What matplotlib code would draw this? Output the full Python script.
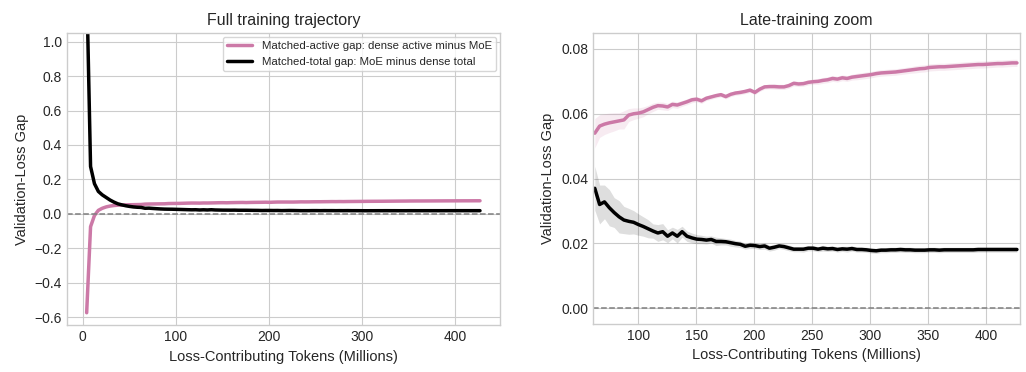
import numpy as np
import matplotlib
matplotlib.use("Agg")
import matplotlib.pyplot as plt
from matplotlib.ticker import MultipleLocator

plt.style.use("seaborn-v0_8-whitegrid")
plt.rcParams["font.family"] = ["Liberation Sans", "DejaVu Sans"]

# evaluation points, millions of loss-contributing tokens (~4.18M per eval)
step_m = 4.18

# matched-active gap: dense active minus MoE
active_gap = [
    -0.575, -0.075, -0.010, 0.020, 0.032, 0.040, 0.045, 0.048, 0.050, 0.051,
    0.052, 0.0525, 0.053, 0.0535,
    0.0540, 0.0562, 0.0568, 0.0572, 0.0575, 0.0578, 0.0581, 0.0596, 0.0600, 0.0602,
    0.0606, 0.0613, 0.0620, 0.0625, 0.0624, 0.0621, 0.0629, 0.0627, 0.0632, 0.0637,
    0.0643, 0.0645,
    0.0640, 0.0648, 0.0652, 0.0656, 0.0659, 0.0653, 0.0660, 0.0664, 0.0666, 0.0669,
    0.0673, 0.0666, 0.0676, 0.0683, 0.0684, 0.0684, 0.0683, 0.0683, 0.0687, 0.0694,
    0.0692, 0.0693, 0.0697, 0.0699,
    0.0700, 0.0703, 0.0705, 0.0709, 0.0707, 0.0711, 0.0709, 0.0713, 0.0715, 0.0717,
    0.0719, 0.0721, 0.0724, 0.0726, 0.0727, 0.0728, 0.0729, 0.0731, 0.0733, 0.0735,
    0.0737, 0.0739, 0.0740, 0.0743, 0.0744, 0.0745, 0.0745, 0.0746, 0.0747, 0.0748,
    0.0749, 0.0750, 0.0751, 0.0752, 0.0752, 0.0753, 0.0754, 0.0755, 0.0755, 0.0756,
    0.0757, 0.0757,
]
active_err = [
    0.010, 0.008, 0.006, 0.005, 0.005, 0.0045, 0.0045, 0.0045, 0.0045, 0.0045,
    0.0045, 0.0045, 0.0045, 0.0045,
    0.0045, 0.0035, 0.0032, 0.0030, 0.0028, 0.0025, 0.0028, 0.0020, 0.0018, 0.0016,
    0.0015, 0.0013, 0.0013, 0.0011, 0.0012, 0.0011, 0.0010, 0.0010, 0.0009, 0.0009,
    0.0009, 0.0008,
    0.0008, 0.0007, 0.0007, 0.0007, 0.0007, 0.0007, 0.0007, 0.0007, 0.0007, 0.0007,
    0.0007, 0.0007, 0.0007, 0.0007, 0.0007, 0.0008, 0.0008, 0.0008, 0.0008, 0.0008,
    0.0008, 0.0008, 0.0008, 0.0008,
    0.0009, 0.0009, 0.0009, 0.0009, 0.0009, 0.0009, 0.0009, 0.0009, 0.0010, 0.0010,
    0.0010, 0.0010, 0.0010, 0.0010, 0.0010, 0.0010, 0.0010, 0.0010, 0.0010, 0.0010,
    0.0011, 0.0011, 0.0011, 0.0011, 0.0011, 0.0011, 0.0011, 0.0011, 0.0011, 0.0011,
    0.0011, 0.0011, 0.0011, 0.0011, 0.0011, 0.0011, 0.0011, 0.0011, 0.0011, 0.0011,
    0.0011, 0.0011,
]

# matched-total gap: MoE minus dense total
total_gap = [
    1.35, 0.275, 0.175, 0.130, 0.110, 0.095, 0.080, 0.068, 0.058, 0.052,
    0.047, 0.043, 0.040, 0.038,
    0.0370, 0.0320, 0.0328, 0.0310, 0.0295, 0.0282, 0.0272, 0.0268, 0.0265, 0.0258,
    0.0252, 0.0245, 0.0238, 0.0232, 0.0236, 0.0222, 0.0232, 0.0222, 0.0236, 0.0222,
    0.0217, 0.0213,
    0.0212, 0.0210, 0.0212, 0.0206, 0.0206, 0.0205, 0.0202, 0.0199, 0.0197, 0.0191,
    0.0194, 0.0193, 0.0190, 0.0192, 0.0185, 0.0188, 0.0192, 0.0190, 0.0186, 0.0182,
    0.0182, 0.0182, 0.0185, 0.0185,
    0.0182, 0.0185, 0.0183, 0.0184, 0.0181, 0.0183, 0.0182, 0.0184, 0.0181, 0.0181,
    0.0180, 0.0178, 0.0177, 0.0179, 0.0179, 0.0180, 0.0180, 0.0181, 0.0180, 0.0180,
    0.0179, 0.0179, 0.0179, 0.0180, 0.0180, 0.0179, 0.0180, 0.0180, 0.0180, 0.0180,
    0.0180, 0.0180, 0.0180, 0.0181, 0.0181, 0.0181, 0.0181, 0.0181, 0.0181, 0.0181,
    0.0181, 0.0181,
]
total_err = [
    0.020, 0.015, 0.010, 0.008, 0.007, 0.007, 0.007, 0.007, 0.007, 0.007,
    0.007, 0.007, 0.007, 0.007,
    0.0068, 0.0060, 0.0052, 0.0056, 0.0046, 0.0050, 0.0042, 0.0040, 0.0036, 0.0033,
    0.0030, 0.0028, 0.0022, 0.0026, 0.0025, 0.0020, 0.0018, 0.0021, 0.0017, 0.0016,
    0.0015, 0.0014,
    0.0013, 0.0012, 0.0011, 0.0013, 0.0011, 0.0010, 0.0011, 0.0010, 0.0010, 0.0009,
    0.0010, 0.0009, 0.0009, 0.0010, 0.0009, 0.0009, 0.0008, 0.0009, 0.0009, 0.0008,
    0.0008, 0.0009, 0.0008, 0.0008,
    0.0008, 0.0009, 0.0008, 0.0008, 0.0008, 0.0008, 0.0009, 0.0008, 0.0008, 0.0008,
    0.0008, 0.0008, 0.0008, 0.0008, 0.0008, 0.0008, 0.0008, 0.0008, 0.0008, 0.0008,
    0.0008, 0.0008, 0.0008, 0.0008, 0.0008, 0.0008, 0.0008, 0.0008, 0.0008, 0.0008,
    0.0008, 0.0008, 0.0008, 0.0008, 0.0008, 0.0008, 0.0008, 0.0008, 0.0008, 0.0008,
    0.0008, 0.0008,
]

tokens = np.arange(1, len(active_gap) + 1) * step_m
active_gap = np.array(active_gap)
active_err = np.array(active_err)
total_gap = np.array(total_gap)
total_err = np.array(total_err)

pink = "#CC79A7"
label_active = "Matched-active gap: dense active minus MoE"
label_total = "Matched-total gap: MoE minus dense total"

fig = plt.figure(figsize=(10.26, 3.72), dpi=100)
ax1 = fig.add_axes([0.0653, 0.126, 0.4217, 0.785])
ax2 = fig.add_axes([0.578, 0.129, 0.416, 0.782])

# left: full trajectory
ax1.fill_between(tokens, active_gap - active_err, active_gap + active_err,
                 color=pink, alpha=0.15, lw=0)
ax1.fill_between(tokens, total_gap - total_err, total_gap + total_err,
                 color="black", alpha=0.13, lw=0)
ax1.plot(tokens, active_gap, color=pink, lw=2.5, label=label_active)
ax1.plot(tokens, total_gap, color="black", lw=2.5, label=label_total)
ax1.axhline(0, color="gray", ls="--", lw=1.1)
ax1.set_ylim(-0.647, 1.05)
ax1.set_title("Full training trajectory", fontsize=11.5)
ax1.set_xlabel("Loss-Contributing Tokens (Millions)", fontsize=10.5)
ax1.set_ylabel("Validation-Loss Gap", fontsize=10.5)
ax1.tick_params(labelsize=10)
ax1.legend(loc="upper right", fontsize=8.2, frameon=True, handlelength=2.2,
           borderaxespad=0.3)

# right: late training zoom
late = tokens >= 60
ax2.fill_between(tokens[late], active_gap[late] - active_err[late],
                 active_gap[late] + active_err[late], color=pink, alpha=0.15, lw=0)
ax2.fill_between(tokens[late], total_gap[late] - total_err[late],
                 total_gap[late] + total_err[late], color="black", alpha=0.13, lw=0)
ax2.plot(tokens[late], active_gap[late], color=pink, lw=2.5)
ax2.plot(tokens[late], total_gap[late], color="black", lw=2.5)
ax2.axhline(0, color="gray", ls="--", lw=1.1)
ax2.set_xlim(tokens[late][0] - 1.5, tokens[late][-1] + 2.5)
ax2.set_ylim(-0.0049, 0.0849)
ax2.yaxis.set_major_locator(MultipleLocator(0.02))
ax2.set_title("Late-training zoom", fontsize=11.5)
ax2.set_xlabel("Loss-Contributing Tokens (Millions)", fontsize=10.5)
ax2.set_ylabel("Validation-Loss Gap", fontsize=10.5)
ax2.tick_params(labelsize=10)

fig.savefig("out.png", dpi=100)
